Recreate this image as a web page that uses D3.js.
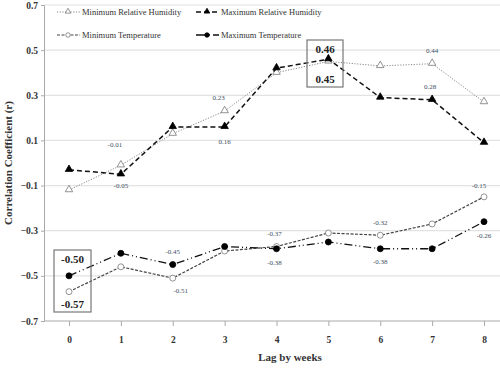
<!DOCTYPE html>
<html>
<head>
<meta charset="utf-8">
<script src="https://cdn.jsdelivr.net/npm/d3@7"></script>
<style>
  body { margin: 0; background: #fff; }
  svg { font-family: "Liberation Serif", "Times New Roman", serif; }
</style>
</head>
<body>
<svg id="chart" width="500" height="368"></svg>
<script>
// values
var lags = [0, 1, 2, 3, 4, 5, 6, 7, 8];
var minRH = [-0.12, -0.01, 0.13, 0.23, 0.40, 0.45, 0.43, 0.44, 0.27];
var maxRH = [-0.03, -0.05, 0.16, 0.16, 0.42, 0.46, 0.29, 0.28, 0.09];
var minTemp = [-0.57, -0.46, -0.51, -0.39, -0.37, -0.31, -0.32, -0.27, -0.15];
var maxTemp = [-0.50, -0.40, -0.45, -0.37, -0.38, -0.35, -0.38, -0.38, -0.26];
var yTicks = [-0.7, -0.5, -0.3, -0.1, 0.1, 0.3, 0.5, 0.7];

// small value labels: [series, lag, text, dx, dy]
var smallLabels = [
  ["minRH", 1, "-0.01", -6, -18],
  ["maxRH", 1, "-0.05", 0, 14],
  ["minRH", 3, "0.23", -6, -11],
  ["maxRH", 3, "0.16", 0, 17],
  ["minRH", 7, "0.44", 0, -11],
  ["maxRH", 7, "0.28", -2, -11],
  ["minTemp", 8, "-0.15", -5, -9],
  ["minTemp", 6, "-0.32", 0, -10],
  ["minTemp", 4, "-0.37", -2, -11],
  ["maxTemp", 4, "-0.38", -2, 16],
  ["maxTemp", 6, "-0.38", 0, 15],
  ["maxTemp", 8, "-0.26", 0, 16],
  ["maxTemp", 2, "-0.45", 0, -11],
  ["minTemp", 2, "-0.51", 8, 15]
];

var seriesList = [
  { key: "minRH", name: "Minimum Relative Humidity", values: minRH, dash: "1.2,1.5", stroke: "#8a8a8a", width: 1, shape: "triangle", fill: "#fff" },
  { key: "maxRH", name: "Maximum Relative Humidity", values: maxRH, dash: "5,3", stroke: "#111", width: 1.5, shape: "triangle", fill: "#000" },
  { key: "minTemp", name: "Minimum Temperature", values: minTemp, dash: "3,1.5", stroke: "#444", width: 1.2, shape: "circle", fill: "#fff" },
  { key: "maxTemp", name: "Maximum Temperature", values: maxTemp, dash: "8,3,1,3,1,3", stroke: "#111", width: 1.3, shape: "circle", fill: "#000" }
];

var svg = d3.select("#chart");
var x = d3.scaleLinear().domain([0, 8]).range([69, 484]);
var y = d3.scaleLinear().domain([-0.7, 0.7]).range([321, 5]);

// gridlines
svg.append("g").selectAll("line")
    .data(yTicks.slice(1))
  .enter().append("line")
    .attr("x1", 44).attr("x2", 500)
    .attr("y1", function(d) { return y(d); })
    .attr("y2", function(d) { return y(d); })
    .attr("stroke", "#e2e2e2").attr("stroke-width", 1.2);

// y axis
var yAxis = svg.append("g")
    .attr("transform", "translate(44,0)")
    .call(d3.axisLeft(y).tickValues(yTicks).tickSize(3).tickFormat(d3.format(".1f")));
yAxis.select(".domain").attr("stroke", "#aaa");
yAxis.selectAll(".tick line").attr("stroke", "#aaa");
yAxis.selectAll("text").attr("font-size", 9.5).attr("font-weight", "bold").attr("fill", "#333")
    .attr("font-family", "Liberation Serif");

// x axis
var xAxis = svg.append("g")
    .attr("transform", "translate(0,321)")
    .call(d3.axisBottom(x).tickValues(lags).tickSize(5).tickPadding(10).tickFormat(d3.format("d")));
xAxis.select(".domain").attr("d", "M44,0H500").attr("stroke", "#aaa");
xAxis.selectAll(".tick line").attr("stroke", "#aaa");
xAxis.selectAll("text").attr("font-size", 9.5).attr("font-weight", "bold").attr("fill", "#333")
    .attr("font-family", "Liberation Serif");

// axis titles
svg.append("text")
    .attr("transform", "translate(12,163) rotate(-90)")
    .attr("text-anchor", "middle")
    .attr("font-size", 11).attr("font-weight", "bold").attr("fill", "#333")
    .text("Correlation Coefficient (r)");
svg.append("text")
    .attr("x", 290).attr("y", 361)
    .attr("text-anchor", "middle")
    .attr("font-size", 11).attr("font-weight", "bold").attr("fill", "#333")
    .text("Lag by weeks");

function drawMarker(g, s, cx, cy, k) {
    k = k || 1;
    if (s.shape === "triangle") {
        g.append("path")
            .attr("d", d3.symbol().type(d3.symbolTriangle).size(24 * k * k)())
            .attr("transform", "translate(" + cx + "," + (cy - 0.5) + ")")
            .attr("fill", s.fill).attr("stroke", s.fill === "#fff" ? "#777" : "#000").attr("stroke-width", 0.8);
    } else {
        g.append("circle")
            .attr("cx", cx).attr("cy", cy).attr("r", 3 * k)
            .attr("fill", s.fill).attr("stroke", s.fill === "#fff" ? "#777" : "#000").attr("stroke-width", 0.8);
    }
}

var line = d3.line()
    .x(function(d, i) { return x(lags[i]); })
    .y(function(d) { return y(d); });

seriesList.forEach(function(s) {
    var g = svg.append("g");
    g.append("path")
        .attr("d", line(s.values))
        .attr("fill", "none")
        .attr("stroke", s.stroke)
        .attr("stroke-width", s.width)
        .attr("stroke-dasharray", s.dash);
    s.values.forEach(function(v, i) {
        drawMarker(g, s, x(lags[i]), y(v));
    });
});

// legend
var legendPos = [[57, 12], [196, 12], [57, 35], [196, 35]];
seriesList.forEach(function(s, i) {
    var p = legendPos[i];
    var g = svg.append("g");
    g.append("line")
        .attr("x1", p[0]).attr("x2", p[0] + 23)
        .attr("y1", p[1]).attr("y2", p[1])
        .attr("stroke", s.stroke).attr("stroke-width", s.width)
        .attr("stroke-dasharray", s.key === "maxTemp" ? "10,3,1,3" : s.dash);
    drawMarker(g, s, p[0] + 11, p[1], 0.75);
    g.append("text")
        .attr("x", p[0] + 25).attr("y", p[1] + 3)
        .attr("font-size", 8.5).attr("fill", "#333")
        .text(s.name);
});

// small labels
var byKey = {};
seriesList.forEach(function(s) { byKey[s.key] = s.values; });
svg.append("g").selectAll("text")
    .data(smallLabels)
  .enter().append("text")
    .attr("x", function(d) { return x(d[1]) + d[3]; })
    .attr("y", function(d) { return y(byKey[d[0]][d[1]]) + d[4]; })
    .attr("text-anchor", "middle")
    .attr("font-size", 7).attr("fill", "#3d4f63")
    .text(function(d) { return d[2]; });

// boxed labels
var boxes = [
  { lag: 5, top: "0.46", bottom: "0.45", x0: 307, y0: 40, w: 36, h: 47 },
  { lag: 0, top: "-0.50", bottom: "-0.57", x0: 54, y0: 250, w: 37, h: 62 }
];
boxes.forEach(function(b) {
    svg.append("rect")
        .attr("x", b.x0).attr("y", b.y0).attr("width", b.w).attr("height", b.h)
        .attr("fill", "none").attr("stroke", "#777").attr("stroke-width", 1.2);
    svg.append("text")
        .attr("x", b.x0 + b.w / 2).attr("y", b.y0 + 13)
        .attr("text-anchor", "middle").attr("font-size", 11).attr("font-weight", "bold").attr("fill", "#222")
        .text(b.top);
    svg.append("text")
        .attr("x", b.x0 + b.w / 2).attr("y", b.y0 + b.h - 4)
        .attr("text-anchor", "middle").attr("font-size", 11).attr("font-weight", "bold").attr("fill", "#222")
        .text(b.bottom);
});
</script>
</body>
</html>
